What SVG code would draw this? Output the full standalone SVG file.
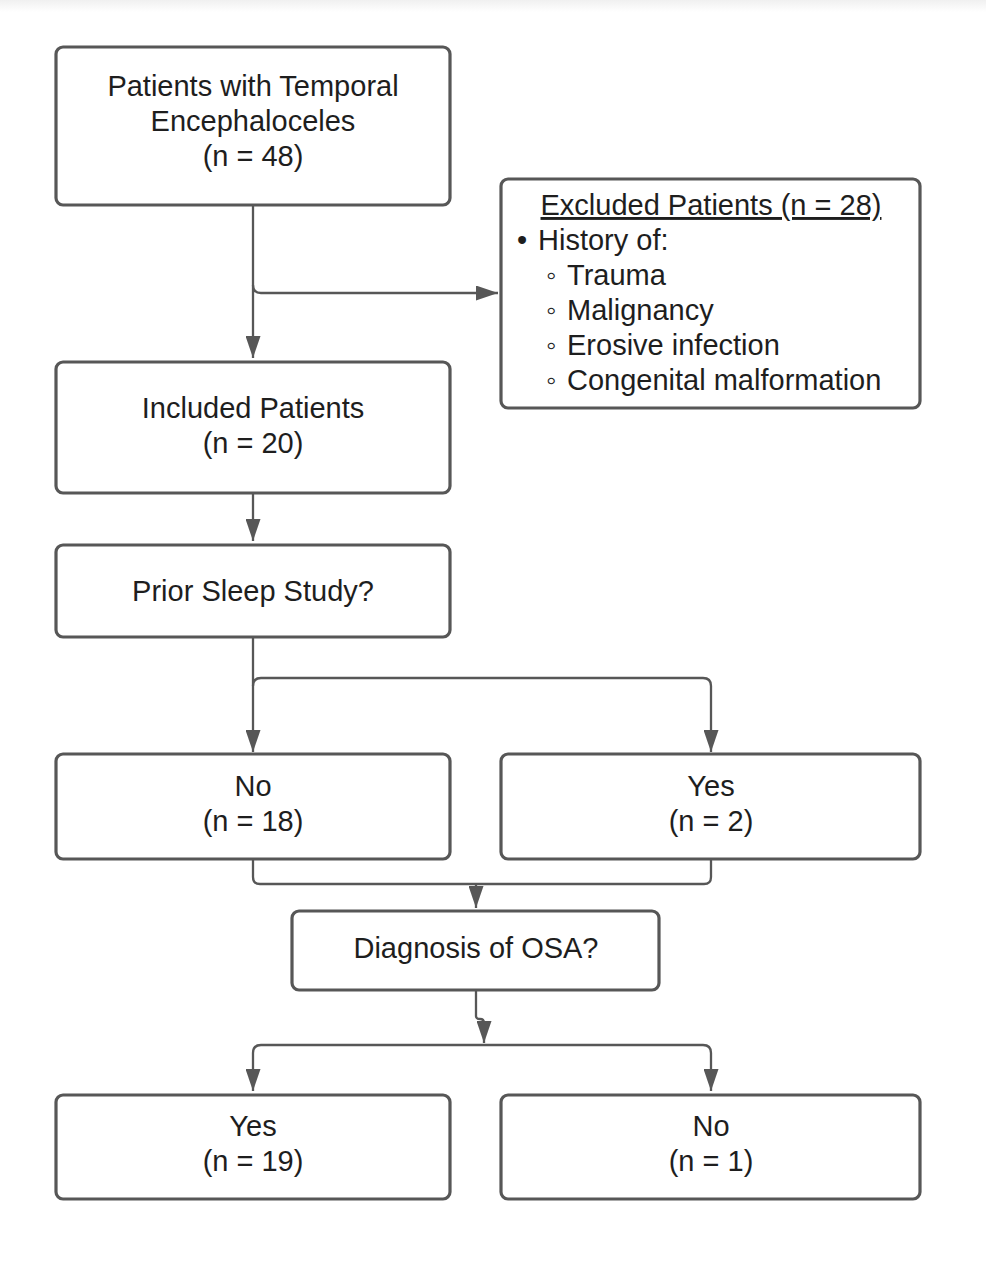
<svg xmlns="http://www.w3.org/2000/svg" width="986" height="1265" viewBox="0 0 986 1265">
<defs>
<style>
.box{fill:#fff;stroke:#575757;stroke-width:3.2}
.t{font-family:"Liberation Sans",Arial,sans-serif;font-size:29px;fill:#1e1e1e}
.c{text-anchor:middle}
.ln{fill:none;stroke:#575757;stroke-width:2.3}
</style>
<marker id="ah" viewBox="0 0 10 10" refX="10" refY="5" markerWidth="22" markerHeight="15" markerUnits="userSpaceOnUse" orient="auto" preserveAspectRatio="none">
<path d="M0,0 L10,5 L0,10 Z" fill="#575757"/>
</marker>
<linearGradient id="top" x1="0" y1="0" x2="0" y2="1">
<stop offset="0" stop-color="#f0f0f0"/>
<stop offset="1" stop-color="#ffffff"/>
</linearGradient>
</defs>
<rect x="0" y="0" width="986" height="1265" fill="#fff"/>
<rect x="0" y="0" width="986" height="12" fill="url(#top)"/>
<g id="connectors">
<path class="ln" d="M253,205 V358" marker-end="url(#ah)"/>
<path class="ln" d="M253,285 Q253,293 261,293 H498" marker-end="url(#ah)"/>
<path class="ln" d="M253,493 V541" marker-end="url(#ah)"/>
<path class="ln" d="M253,637 V752" marker-end="url(#ah)"/>
<path class="ln" d="M253,686 Q253,678 261,678 H703 Q711,678 711,686 V752" marker-end="url(#ah)"/>
<path class="ln" d="M253,859 V877 Q253,884 260,884 H704 Q711,884 711,877 V859"/>
<path class="ln" d="M476,884 V908" marker-end="url(#ah)"/>
<path class="ln" d="M476,990 V1016 Q476,1019 480,1019 Q484,1019 484,1023 V1043" marker-end="url(#ah)"/>
<path class="ln" d="M484,1045 H261 Q253,1045 253,1053 V1091" marker-end="url(#ah)"/>
<path class="ln" d="M484,1045 H703 Q711,1045 711,1053 V1091" marker-end="url(#ah)"/>
</g>
<g id="n1">
<rect class="box" x="56" y="47" width="394" height="158" rx="7"/>
<text class="t c" x="253" y="96">Patients with Temporal</text>
<text class="t c" x="253" y="131">Encephaloceles</text>
<text class="t c" x="253" y="166">(n = 48)</text>
</g>
<g id="excluded">
<rect class="box" x="501" y="179" width="419" height="229" rx="7"/>
<text class="t c" x="711" y="215" text-decoration="underline">Excluded Patients (n = 28)</text>
<text class="t" x="517" y="250">•</text>
<text class="t" x="538" y="250">History of:</text>
<text class="t" x="546" y="285">◦</text>
<text class="t" x="567" y="285">Trauma</text>
<text class="t" x="546" y="320">◦</text>
<text class="t" x="567" y="320">Malignancy</text>
<text class="t" x="546" y="355">◦</text>
<text class="t" x="567" y="355">Erosive infection</text>
<text class="t" x="546" y="390">◦</text>
<text class="t" x="567" y="390">Congenital malformation</text>
</g>
<g id="included">
<rect class="box" x="56" y="362" width="394" height="131" rx="7"/>
<text class="t c" x="253" y="418">Included Patients</text>
<text class="t c" x="253" y="453">(n = 20)</text>
</g>
<g id="prior">
<rect class="box" x="56" y="545" width="394" height="92" rx="7"/>
<text class="t c" x="253" y="601">Prior Sleep Study?</text>
</g>
<g id="no1">
<rect class="box" x="56" y="754" width="394" height="105" rx="7"/>
<text class="t c" x="253" y="796">No</text>
<text class="t c" x="253" y="831">(n = 18)</text>
</g>
<g id="yes1">
<rect class="box" x="501" y="754" width="419" height="105" rx="7"/>
<text class="t c" x="711" y="796">Yes</text>
<text class="t c" x="711" y="831">(n = 2)</text>
</g>
<g id="osa">
<rect class="box" x="292" y="911" width="367" height="79" rx="7"/>
<text class="t c" x="476" y="958">Diagnosis of OSA?</text>
</g>
<g id="yes2">
<rect class="box" x="56" y="1095" width="394" height="104" rx="7"/>
<text class="t c" x="253" y="1136">Yes</text>
<text class="t c" x="253" y="1171">(n = 19)</text>
</g>
<g id="no2">
<rect class="box" x="501" y="1095" width="419" height="104" rx="7"/>
<text class="t c" x="711" y="1136">No</text>
<text class="t c" x="711" y="1171">(n = 1)</text>
</g>
</svg>
